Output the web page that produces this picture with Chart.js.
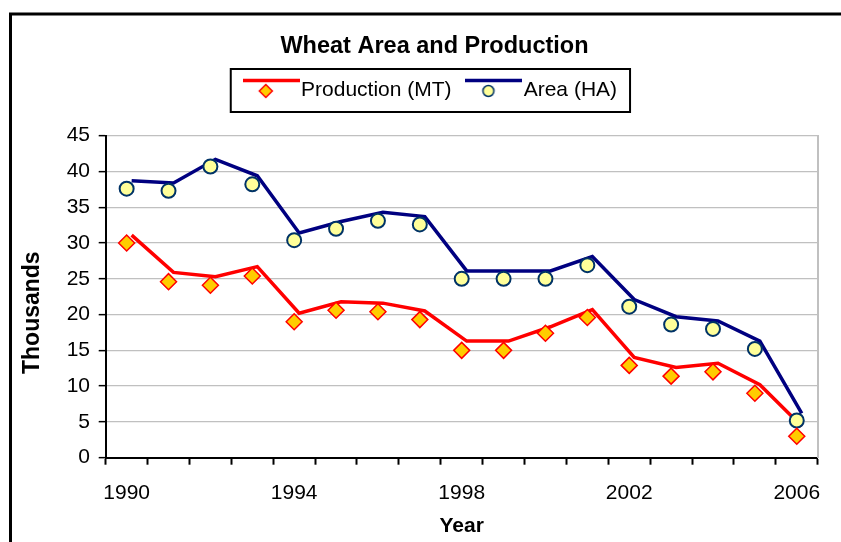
<!DOCTYPE html>
<html>
<head>
<meta charset="utf-8">
<script src="https://cdn.jsdelivr.net/npm/chart.js@4.4.1/dist/chart.umd.min.js"></script>
<style>
  html, body { margin: 0; padding: 0; background: #fff; }
  #wrap { width: 841px; height: 542px; }
</style>
</head>
<body>
<div id="wrap"><canvas id="chart"></canvas></div>
<script>
// values (thousands)
const years = ['1990', '1991', '1992', '1993', '1994', '1995', '1996', '1997', '1998',
    '1999', '2000', '2001', '2002', '2003', '2004', '2005', '2006'];
const shownYears = ['1990', '1994', '1998', '2002', '2006'];
const productionLine = [31.1, 25.9, 25.3, 26.7, 20.2, 21.8, 21.6, 20.5, 16.3,
    16.3, 18.3, 20.7, 14.0, 12.6, 13.2, 10.2, 4.4];
const productionPoints = [30.0, 24.6, 24.1, 25.4, 19.0, 20.6, 20.4, 19.3, 15.0,
    15.0, 17.4, 19.6, 12.9, 11.4, 12.0, 9.0, 3.0];
const areaLine = [38.7, 38.4, 41.7, 39.4, 31.4, 33.0, 34.3, 33.7, 26.1,
    26.1, 26.1, 28.1, 22.1, 19.7, 19.1, 16.3, 6.2];
const areaPoints = [37.6, 37.3, 40.7, 38.2, 30.4, 32.0, 33.1, 32.6, 25.0,
    25.0, 25.0, 26.9, 21.1, 18.6, 18.0, 15.2, 5.2];

Chart.defaults.font.family = 'Arial, "Liberation Sans", sans-serif';
Chart.defaults.color = '#000';

// excel style legend symbol: line on top, marker below it
function legendSymbol(lineColor, drawMarker) {
    const c = document.createElement('canvas');
    c.width = 57;
    c.height = 26;
    const g = c.getContext('2d');
    g.strokeStyle = lineColor;
    g.lineWidth = 3.5;
    g.beginPath();
    g.moveTo(0, 3.5);
    g.lineTo(57, 3.5);
    g.stroke();
    drawMarker(g, 23, 14);
    return c;
}
const prodSymbol = legendSymbol('#ff0000', function (g, x, y) {
    g.beginPath();
    g.moveTo(x, y - 6.5); g.lineTo(x + 6.5, y); g.lineTo(x, y + 6.5); g.lineTo(x - 6.5, y);
    g.closePath();
    g.fillStyle = '#ffcc00'; g.fill();
    g.strokeStyle = '#ff0000'; g.lineWidth = 1.5; g.stroke();
});
const areaSymbol = legendSymbol('#000080', function (g, x, y) {
    g.beginPath();
    g.arc(x, y, 5.5, 0, Math.PI * 2);
    g.fillStyle = '#ffff99'; g.fill();
    g.strokeStyle = '#003366'; g.lineWidth = 1.5; g.stroke();
});

const frame = {
    id: 'frame',
    beforeDraw(chart) {
        const c = chart.ctx;
        c.save();
        c.fillStyle = '#fff';
        c.fillRect(0, 0, chart.width, chart.height);
        c.strokeStyle = '#000';
        c.lineWidth = 3;
        c.strokeRect(10.5, 14, chart.width + 20, chart.height + 20);
        c.restore();
    },
    afterDraw(chart) {
        const boxes = chart.legend.legendHitBoxes;
        if (!boxes || !boxes.length) return;
        const first = boxes[0], last = boxes[boxes.length - 1];
        const c = chart.ctx;
        const left = first.left + 19.3 - 28.5 - 12;
        const right = last.left + last.width + 13;
        c.save();
        c.strokeStyle = '#000';
        c.lineWidth = 2;
        c.strokeRect(left, first.top - 10.5, right - left, first.height + 22);
        c.restore();
    }
};

// the lines sit a few pixels right of the markers in the original
const shiftLines = {
    id: 'shiftLines',
    beforeDatasetDraw(chart, args) {
        const ds = chart.data.datasets[args.index];
        chart.ctx.save();
        if (ds.shift) chart.ctx.translate(ds.shift, 0);
    },
    afterDatasetDraw(chart) {
        chart.ctx.restore();
    }
};

new Chart(document.getElementById('chart'), {
    type: 'line',
    data: {
        labels: years,
        datasets: [
            {
                label: 'Production (MT)',
                data: productionLine,
                borderColor: '#ff0000',
                borderWidth: 3.5,
                pointRadius: 0,
                tension: 0,
                shift: 5,
                order: 1
            },
            {
                label: 'Area (HA)',
                data: areaLine,
                borderColor: '#000080',
                borderWidth: 3.5,
                pointRadius: 0,
                tension: 0,
                shift: 5,
                order: 1
            },
            {
                data: productionPoints,
                showLine: false,
                pointStyle: 'rectRot',
                pointRadius: 8,
                pointBackgroundColor: '#ffcc00',
                pointBorderColor: '#ff0000',
                pointBorderWidth: 1.5,
                order: 0
            },
            {
                data: areaPoints,
                showLine: false,
                pointStyle: 'circle',
                pointRadius: 7,
                pointBackgroundColor: '#ffff99',
                pointBorderColor: '#003366',
                pointBorderWidth: 2,
                order: 0
            }
        ]
    },
    options: {
        responsive: true,
        maintainAspectRatio: false,
        animation: false,
        devicePixelRatio: 1,
        layout: { padding: { left: 28, right: 0, top: 0, bottom: 0 } },
        plugins: {
            tooltip: { enabled: false },
            title: {
                display: true,
                text: 'Wheat Area and Production',
                font: { size: 23.5, weight: 'bold', lineHeight: 0.5 },
                padding: { top: 41, bottom: 3.75 }
            },
            subtitle: {
                display: true,
                text: ' ',
                weight: 500,
                font: { size: 10, lineHeight: 1 },
                padding: { top: 15.2, bottom: 0 }
            },
            legend: {
                display: true,
                position: 'top',
                labels: {
                    usePointStyle: true,
                    pointStyleWidth: 38.6,
                    padding: 23,
                    font: { size: 21 },
                    generateLabels: () => [
                        { text: 'Production (MT)', pointStyle: prodSymbol, datasetIndex: 0,
                          fillStyle: '#ff0000', strokeStyle: '#ff0000', lineWidth: 0, hidden: false },
                        { text: 'Area (HA)', pointStyle: areaSymbol, datasetIndex: 1,
                          fillStyle: '#000080', strokeStyle: '#000080', lineWidth: 0, hidden: false }
                    ]
                }
            }
        },
        scales: {
            x: {
                type: 'category',
                offset: true,
                grid: {
                    offset: true,
                    drawOnChartArea: false,
                    drawTicks: true,
                    tickLength: 7,
                    tickColor: '#000',
                    tickWidth: 2
                },
                border: { color: '#000', width: 2 },
                ticks: {
                    autoSkip: false,
                    maxRotation: 0,
                    padding: 16,
                    font: { size: 21 },
                    callback: function (value, i) {
                        return shownYears.includes(years[i]) ? years[i] : '';
                    }
                },
                title: {
                    display: true,
                    text: 'Year',
                    font: { size: 21, weight: 'bold', lineHeight: 1.2 },
                    padding: { top: 0, bottom: 3.4 }
                },
                afterFit: (s) => { s.height = 84.3; }
            },
            y: {
                position: 'left',
                min: 0,
                max: 45,
                ticks: { stepSize: 5, padding: 8.7, font: { size: 21 } },
                grid: {
                    color: '#c0c0c0',
                    lineWidth: 1.3,
                    tickColor: '#000',
                    tickWidth: 1.5,
                    tickLength: 7
                },
                border: { color: '#000', width: 2 },
                title: {
                    display: true,
                    text: 'Thousands     ',
                    font: { size: 23, weight: 'bold', lineHeight: 0.43 },
                    padding: { top: 0, bottom: 0 }
                },
                afterFit: (s) => { s.width = 77.7; }
            },
            y2: {
                position: 'right',
                min: 0,
                max: 45,
                ticks: { display: false },
                grid: { drawOnChartArea: false, drawTicks: false },
                border: { color: '#c0c0c0', width: 2 },
                afterFit: (s) => { s.width = 23.3; }
            }
        }
    },
    plugins: [frame, shiftLines]
});
</script>
</body>
</html>
